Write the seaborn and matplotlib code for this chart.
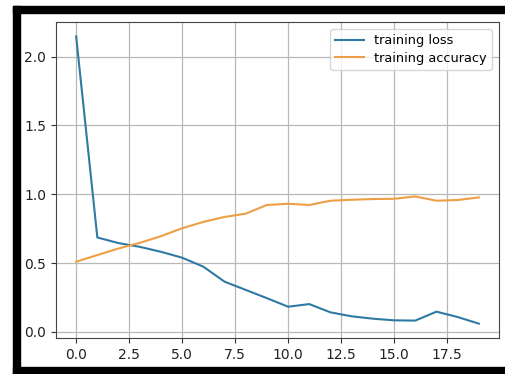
"""Training loss / accuracy curves."""
import numpy as np
import pandas as pd
import matplotlib
matplotlib.use("Agg")
import matplotlib.pyplot as plt
from matplotlib.patches import Rectangle
import seaborn as sns

epochs = list(range(20))
training_loss = [2.147, 0.686, 0.645, 0.618, 0.582, 0.539, 0.474, 0.365, 0.305, 0.245,
                 0.183, 0.202, 0.142, 0.113, 0.096, 0.084, 0.082, 0.147, 0.108, 0.060]
training_accuracy = [0.510, 0.558, 0.606, 0.647, 0.695, 0.753, 0.799, 0.835, 0.859, 0.922,
                     0.931, 0.922, 0.953, 0.960, 0.965, 0.967, 0.984, 0.953, 0.958, 0.977]

df = pd.DataFrame({
    "epoch": epochs * 2,
    "value": training_loss + training_accuracy,
    "series": ["training loss"] * 20 + ["training accuracy"] * 20,
})

W, H = 505, 374
fig = plt.figure(figsize=(W / 100, H / 100), dpi=100)
ax = fig.add_axes([56 / W, 1 - 338 / H, (499 - 56) / W, (338 - 22) / H])

sns.lineplot(data=df, x="epoch", y="value", hue="series",
             palette=["#2f7aa3", "#ee9f45"], linewidth=1.5, ax=ax)
ax.grid(True, color="#b8b8b8", linewidth=0.9)
ax.set_xlabel("")
ax.set_ylabel("")
ax.set_xticks(np.arange(0, 18, 2.5))
ax.set_yticks([0.0, 0.5, 1.0, 1.5, 2.0])
ax.tick_params(labelsize=10, colors="#333333", labelcolor="#222222")
for sp in ax.spines.values():
    sp.set_color("#444444")
leg = ax.legend(loc="upper right", fontsize=9.3, handlelength=2.2,
                labelspacing=0.35, borderaxespad=0.55)
leg.set_title(None)

# black screenshot frame
def px_rect(x0, y0, x1, y1):
    fig.add_artist(Rectangle((x0 / W, 1 - y1 / H), (x1 - x0) / W, (y1 - y0) / H,
                             transform=fig.transFigure, color="black", zorder=10))

px_rect(13, 6, W, 13)
px_rect(13, 6, 20, H)
px_rect(13, 367, W, H)

fig.savefig("out.png", dpi=100)
plt.close(fig)
